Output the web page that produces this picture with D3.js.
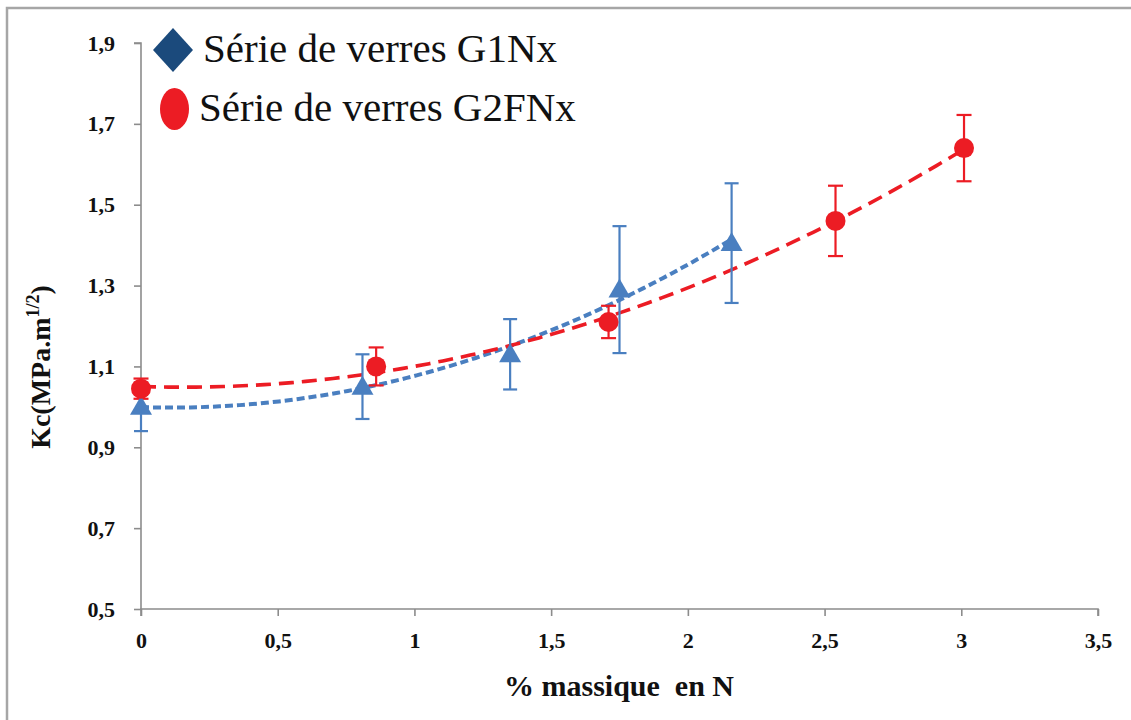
<!DOCTYPE html>
<html>
<head>
<meta charset="utf-8">
<script src="https://cdn.jsdelivr.net/npm/d3@7"></script>
<style>
  html, body { margin: 0; padding: 0; background: #fff; }
  svg { display: block; }
  text { font-family: "Liberation Serif", "Times New Roman", serif; }
</style>
</head>
<body>
<svg id="chart" width="1131" height="720"></svg>
<script>
// Kc fracture toughness vs. nitrogen mass content, two glass series
const xTicks = [0, 0.5, 1, 1.5, 2, 2.5, 3, 3.5];
const yTicks = [0.5, 0.7, 0.9, 1.1, 1.3, 1.5, 1.7, 1.9];

const g1nxX   = [0, 0.81, 1.35, 1.75, 2.16];
const g1nxY   = [1.00, 1.05, 1.13, 1.29, 1.405];
const g1nxErr = [0.06, 0.08, 0.087, 0.157, 0.148];

const g2fnxX   = [0, 0.86, 1.71, 2.54, 3.01];
const g2fnxY   = [1.045, 1.10, 1.21, 1.46, 1.64];
const g2fnxErr = [0.025, 0.047, 0.04, 0.087, 0.082];

const seriesNames = ["Série de verres G1Nx", "Série de verres G2FNx"];

const svg = d3.select("#chart");
const W = 1131, H = 720;

// outer frame (top and left edges)
svg.append("path")
  .attr("d", `M7,${H} L7,8 L${W},8`)
  .attr("fill", "none").attr("stroke", "#a6a6a6").attr("stroke-width", 2.5);

const x = d3.scaleLinear().domain([0, 3.5]).range([141, 1098]);
const y = d3.scaleLinear().domain([0.5, 1.9]).range([609, 43]);

const fmt = v => String(v).replace(".", ",");
const axisColor = "#8c8c8c";

// x axis
const xAxis = svg.append("g").attr("transform", `translate(0,${y(0.5)})`)
  .call(d3.axisBottom(x).tickValues(xTicks).tickFormat(fmt).tickSize(7).tickPadding(16));
// y axis
const yAxis = svg.append("g").attr("transform", `translate(${x(0)},0)`)
  .call(d3.axisLeft(y).tickValues(yTicks).tickFormat(d => fmt(d.toFixed(1))).tickSize(7).tickPadding(19));

[xAxis, yAxis].forEach(a => {
  a.select(".domain").attr("stroke", axisColor).attr("stroke-width", 1.6);
  a.selectAll(".tick line").attr("stroke", axisColor).attr("stroke-width", 1.6);
  a.selectAll(".tick text")
    .attr("font-family", "'Liberation Serif', serif")
    .attr("font-weight", "bold").attr("font-size", 22).attr("fill", "#111");
});
xAxis.select(".domain").attr("d", `M${x(0)},7V0H${x(3.5)}V7`);
yAxis.select(".domain").attr("d", `M-7,${y(1.9)}H0V${y(0.5)}`);

// axis titles
svg.append("text")
  .attr("x", 619).attr("y", 696)
  .attr("text-anchor", "middle")
  .style("white-space", "pre")
  .attr("font-weight", "bold").attr("font-size", 30).attr("fill", "#111")
  .text("% massique  en N");

const yt = svg.append("text")
  .attr("transform", "translate(50,367) rotate(-90)")
  .attr("text-anchor", "middle")
  .attr("font-weight", "bold").attr("font-size", 28).attr("fill", "#111");
yt.append("tspan").text("Kc(MPa.m");
yt.append("tspan").attr("font-size", 18).attr("dy", -11).text("1/2");
yt.append("tspan").attr("dy", 11).text(")");

// quadratic least-squares trend through each series
function quadFit(xs, ys) {
  const n = xs.length;
  let s = [0, 0, 0, 0, 0], t = [0, 0, 0];
  for (let i = 0; i < n; i++) {
    const xi = xs[i], yi = ys[i];
    for (let k = 0; k < 5; k++) s[k] += Math.pow(xi, k);
    for (let k = 0; k < 3; k++) t[k] += yi * Math.pow(xi, k);
  }
  const M = [[s[0], s[1], s[2], t[0]], [s[1], s[2], s[3], t[1]], [s[2], s[3], s[4], t[2]]];
  for (let i = 0; i < 3; i++) {
    for (let j = i + 1; j < 3; j++) {
      const f = M[j][i] / M[i][i];
      for (let k = i; k < 4; k++) M[j][k] -= f * M[i][k];
    }
  }
  const c = [0, 0, 0];
  for (let i = 2; i >= 0; i--) {
    let v = M[i][3];
    for (let k = i + 1; k < 3; k++) v -= M[i][k] * c[k];
    c[i] = v / M[i][i];
  }
  return v => c[0] + c[1] * v + c[2] * v * v;
}

function trendPoints(xs, ys) {
  const f = quadFit(xs, ys);
  const lo = d3.min(xs), hi = d3.max(xs);
  return d3.range(0, 61).map(i => { const v = lo + (hi - lo) * i / 60; return [v, f(v)]; });
}

const line = d3.line().x(d => x(d[0])).y(d => y(d[1]));

const blue = "#4a7fc0", red = "#ec1c24";

// trend lines
svg.append("path").datum(trendPoints(g1nxX, g1nxY))
  .attr("d", line).attr("fill", "none")
  .attr("stroke", blue).attr("stroke-width", 4).attr("stroke-dasharray", "8,4");
svg.append("path").datum(trendPoints(g2fnxX, g2fnxY))
  .attr("d", line).attr("fill", "none")
  .attr("stroke", red).attr("stroke-width", 3.6).attr("stroke-dasharray", "15,8");

function errorBars(xs, ys, es, color, cap) {
  const g = svg.append("g").attr("stroke", color).attr("stroke-width", 2.2);
  xs.forEach((xv, i) => {
    const cx = x(xv), top = y(ys[i] + es[i]), bot = y(ys[i] - es[i]);
    g.append("line").attr("x1", cx).attr("x2", cx).attr("y1", top).attr("y2", bot);
    g.append("line").attr("x1", cx - cap / 2).attr("x2", cx + cap / 2).attr("y1", top).attr("y2", top);
    g.append("line").attr("x1", cx - cap / 2).attr("x2", cx + cap / 2).attr("y1", bot).attr("y2", bot);
  });
}

errorBars(g1nxX, g1nxY, g1nxErr, blue, 14);
errorBars(g2fnxX, g2fnxY, g2fnxErr, red, 15);

// markers
svg.append("g").selectAll("path").data(g1nxX)
  .join("path")
  .attr("transform", (d, i) => `translate(${x(d)},${y(g1nxY[i])})`)
  .attr("d", "M0,-11 L11,8 L-11,8 Z")
  .attr("fill", blue);

svg.append("g").selectAll("circle").data(g2fnxX)
  .join("circle")
  .attr("cx", d => x(d)).attr("cy", (d, i) => y(g2fnxY[i]))
  .attr("r", 10).attr("fill", red);

// legend
const leg = svg.append("g");
leg.append("path").attr("d", "M173,28 L193,50 L173,72 L153,50 Z").attr("fill", "#1b4a7c");
leg.append("ellipse").attr("cx", 174.5).attr("cy", 109).attr("rx", 14.5).attr("ry", 21).attr("fill", red);
leg.append("text").attr("x", 203).attr("y", 62)
  .attr("font-size", 41).attr("fill", "#111").text(seriesNames[0]);
leg.append("text").attr("x", 199).attr("y", 121)
  .attr("font-size", 41).attr("fill", "#111").text(seriesNames[1]);
</script>
</body>
</html>
